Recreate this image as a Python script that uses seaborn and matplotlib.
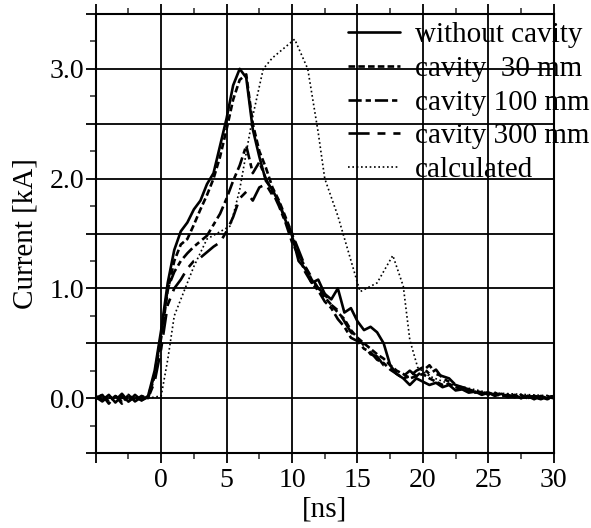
import numpy as np
import pandas as pd
import matplotlib
matplotlib.use("Agg")
import matplotlib.pyplot as plt
import seaborn as sns
from matplotlib.ticker import MultipleLocator, FuncFormatter

# ---- data ----
t_meas = [-5, -4.5, -4, -3.5, -3, -2.5, -2, -1.5, -1, -0.5, 0, 0.5, 1, 1.5, 2, 2.5, 3, 3.5, 4, 4.5,
          5, 5.5, 6, 6.5, 7, 7.5, 8, 8.5, 9, 9.5, 10, 10.5, 11, 11.5, 12, 12.5, 13, 13.5, 14, 14.5,
          15, 15.5, 16, 16.5, 17, 17.5, 18, 18.5, 19, 19.5, 20, 20.5, 21, 21.5, 22, 22.5, 23, 23.5,
          24, 24.5, 25, 25.5, 26, 26.5, 27, 27.5, 28, 28.5, 29, 29.5, 30]

without_cavity = [0.02, -0.02, 0.03, -0.04, 0.02, -0.03, 0.03, -0.02, 0.02, 0.25, 0.62, 1.05, 1.35, 1.52, 1.60, 1.72,
                  1.80, 1.95, 2.05, 2.30, 2.55, 2.85, 3.00, 2.92, 2.45, 2.20, 1.98, 1.90, 1.78, 1.62, 1.48, 1.25,
                  1.18, 1.05, 1.08, 0.95, 0.90, 1.00, 0.78, 0.82, 0.70, 0.62, 0.65, 0.60, 0.50, 0.30, 0.22, 0.18,
                  0.12, 0.18, 0.15, 0.12, 0.14, 0.10, 0.12, 0.07, 0.08, 0.05, 0.06, 0.03, 0.05, 0.02, 0.04, 0.01,
                  0.03, 0.00, 0.02, -0.01, 0.02, 0.00, 0.02]

cavity_30 = [0.00, 0.03, -0.03, 0.02, -0.05, 0.03, -0.02, 0.02, 0.00, 0.20, 0.55, 0.98, 1.25, 1.40, 1.45, 1.58,
             1.72, 1.85, 2.00, 2.20, 2.45, 2.72, 2.90, 2.95, 2.50, 2.25, 2.10, 1.92, 1.80, 1.65, 1.50, 1.30,
             1.20, 1.08, 1.00, 0.92, 0.85, 0.78, 0.72, 0.62, 0.55, 0.50, 0.45, 0.40, 0.36, 0.30, 0.25, 0.22,
             0.18, 0.20, 0.22, 0.18, 0.15, 0.12, 0.13, 0.10, 0.08, 0.07, 0.05, 0.06, 0.03, 0.04, 0.02, 0.03,
             0.01, 0.02, 0.00, 0.02, -0.01, 0.01, 0.00]

cavity_100 = [0.01, -0.03, 0.02, -0.02, 0.04, -0.03, 0.01, -0.02, 0.01, 0.22, 0.58, 1.00, 1.15, 1.25, 1.32, 1.38,
              1.43, 1.48, 1.58, 1.68, 1.82, 1.98, 2.12, 2.30, 2.05, 2.15, 2.00, 1.88, 1.75, 1.60, 1.42, 1.30,
              1.15, 1.05, 0.98, 0.88, 0.82, 0.72, 0.65, 0.55, 0.52, 0.45, 0.42, 0.35, 0.32, 0.26, 0.22, 0.18,
              0.20, 0.25, 0.28, 0.22, 0.26, 0.18, 0.15, 0.12, 0.10, 0.08, 0.06, 0.05, 0.04, 0.05, 0.02, 0.03,
              0.01, 0.03, 0.00, 0.02, 0.01, -0.01, 0.01]

cavity_300 = [-0.01, 0.03, -0.05, 0.02, -0.02, 0.03, -0.03, 0.01, 0.00, 0.15, 0.45, 0.85, 1.00, 1.08, 1.18, 1.25,
              1.28, 1.33, 1.38, 1.42, 1.52, 1.65, 1.82, 1.88, 1.80, 1.92, 1.95, 1.85, 1.78, 1.62, 1.50, 1.35,
              1.20, 1.10, 1.00, 0.95, 0.85, 0.80, 0.70, 0.60, 0.55, 0.48, 0.40, 0.38, 0.30, 0.28, 0.22, 0.20,
              0.25, 0.20, 0.25, 0.30, 0.22, 0.20, 0.18, 0.12, 0.10, 0.08, 0.07, 0.04, 0.05, 0.03, 0.04, 0.01,
              0.02, 0.00, 0.02, 0.01, -0.01, 0.02, 0.00]

t_calc = [-5, -1, 0, 0.5, 1, 1.7, 2.5, 3.5, 5.3, 6, 7, 7.8, 8.5, 9.5, 10.2, 11.2, 12, 12.5, 13.5,
          15.2, 16.5, 17.7, 18.5, 19, 19.6, 20.5, 22, 25, 30]
calculated = [0.0, 0.0, 0.02, 0.35, 0.75, 0.96, 1.20, 1.45, 1.57, 1.90, 2.57, 3.00, 3.10, 3.20, 3.27, 3.00,
              2.42, 2.00, 1.66, 0.97, 1.05, 1.30, 1.02, 0.53, 0.28, 0.20, 0.13, 0.05, 0.02]

series_labels = ["without cavity", "cavity  30 mm", "cavity 100 mm", "cavity 300 mm", "calculated"]
x_ticks = [0, 5, 10, 15, 20, 25, 30]
y_ticks = [0.0, 1.0, 2.0, 3.0]

# ---- style ----
sns.set_theme(style="white")
plt.rcParams["font.family"] = ["Liberation Serif", "DejaVu Serif"]
plt.rcParams["axes.unicode_minus"] = False

fig = plt.figure(figsize=(5.91, 5.28), dpi=100)
ax = fig.add_axes([0.162, 0.142, 0.775, 0.8315])

styles = [
    dict(linestyle="-", linewidth=1.9),
    dict(linestyle=(0, (2.5, 1.2)), linewidth=1.9),
    dict(linestyle=(0, (5, 1.5, 2, 1.5)), linewidth=1.9),
    dict(linestyle=(0, (8, 3, 3, 3)), linewidth=1.9),
]
meas = [without_cavity, cavity_30, cavity_100, cavity_300]
for vals, lab, st in zip(meas, series_labels[:4], styles):
    sns.lineplot(x=t_meas, y=vals, ax=ax, color="black", label=lab, **st)
sns.lineplot(x=t_calc, y=calculated, ax=ax, color="black", label=series_labels[4],
             linestyle=(0, (1, 1.6)), linewidth=1.2)

ax.set_xlim(-5, 30)
ax.set_ylim(-0.5, 3.5)
ax.xaxis.set_major_locator(MultipleLocator(5))
ax.xaxis.set_minor_locator(MultipleLocator(2.5))
ax.yaxis.set_major_locator(MultipleLocator(0.5))
ax.yaxis.set_minor_locator(MultipleLocator(0.25))
ax.xaxis.set_major_formatter(FuncFormatter(lambda v, p: f"{v:.0f}" if v in x_ticks else ""))
ax.yaxis.set_major_formatter(FuncFormatter(lambda v, p: f"{v:.1f}" if round(v, 2) in y_ticks else ""))

ax.grid(True, which="major", color="black", linewidth=1.3)
for s in ax.spines.values():
    s.set_visible(True)
    s.set_color("black")
    s.set_linewidth(1.5)

ax.tick_params(axis="both", which="major", direction="out", length=7, width=1.3,
               labelsize=20, colors="black", top=True, bottom=True, left=True, right=False)
ax.tick_params(axis="both", which="minor", direction="out", length=4, width=1.1,
               top=True, bottom=True, left=True, right=False)
ax.tick_params(axis="x", pad=4)
ax.tick_params(axis="y", pad=1)

ax.set_xlabel("[ns]", fontsize=21, color="black", labelpad=2)
ax.set_ylabel("Current [kA]", fontsize=21, color="black", labelpad=8)

leg = ax.legend(loc="upper left", bbox_to_anchor=(0.55, 0.982), frameon=False, fontsize=21,
                handlelength=1.8, handletextpad=0.5, labelspacing=0.25, borderpad=0, borderaxespad=0)
for t in leg.get_texts():
    t.set_color("black")

fig.savefig("out.png", dpi=100)
